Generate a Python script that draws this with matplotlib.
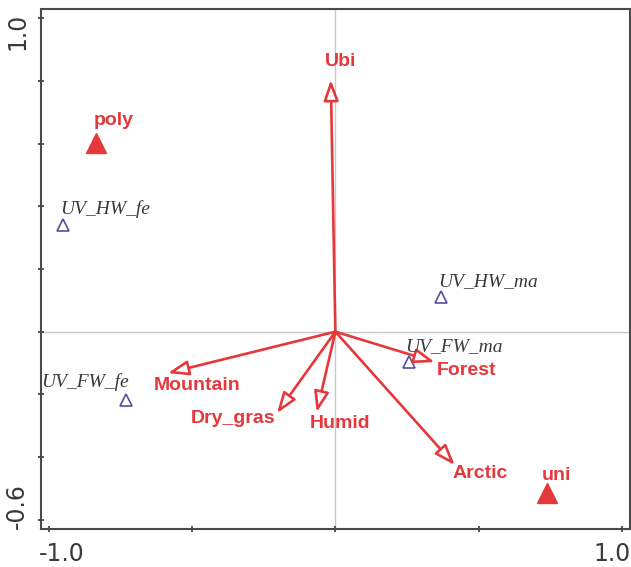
import matplotlib
matplotlib.use("Agg")
import matplotlib.pyplot as plt
import matplotlib.transforms as mtransforms

# variables de entorno (flechas)
env_names = ["Ubi", "Mountain", "Dry_gras", "Humid", "Forest", "Arctic"]
env_x = [-0.016, -0.585, -0.204, -0.065, 0.347, 0.417]
env_y = [0.804, -0.132, -0.26, -0.257, -0.097, -0.426]

# grupos (triangulos rellenos)
grp_names = ["poly", "uni"]
grp_x = [-0.836, 0.738]
grp_y = [0.603, -0.516]

# muestras (triangulos abiertos)
smp_names = ["UV_HW_fe", "UV_HW_ma", "UV_FW_ma", "UV_FW_fe"]
smp_x = [-0.951, 0.368, 0.256, -0.732]
smp_y = [0.34, 0.11, -0.097, -0.218]

rojo = "#e5383b"
morado = "#5b4b9c"
gris = "#3a3a3a"

fig = plt.figure(figsize=(6.31, 5.67), dpi=100)
ax = fig.add_axes([0.065, 0.067, 0.933, 0.917])
ax.set_xlim(-1.028, 1.028)
ax.set_ylim(-0.63, 1.03)

ax.axhline(0, color="#c8c8c8", lw=1, zorder=0)
ax.axvline(0, color="#c8c8c8", lw=1, zorder=0)

# flechas
env_off = {"Ubi": (10, 18), "Mountain": (29, -12), "Dry_gras": (-44, -5),
           "Humid": (23, -11), "Forest": (32, -8), "Arctic": (25, -8)}
for n, x, y in zip(env_names, env_x, env_y):
    ax.annotate("", xy=(x, y), xytext=(0, 0),
                arrowprops=dict(arrowstyle="-|>,head_length=1.25,head_width=0.45",
                                fc="white", ec=rojo, lw=1.9,
                                shrinkA=0, shrinkB=0))
    ax.annotate(n, (x, y), xytext=env_off[n], textcoords="offset pixels",
                ha="center", va="center", color=rojo, fontsize=14,
                fontweight="bold", family="Liberation Sans")

ax.plot(grp_x, grp_y, "^", color=rojo, ms=15, mec=rojo)
grp_off = {"poly": (18, 22), "uni": (10, 18)}
for n, x, y in zip(grp_names, grp_x, grp_y):
    ax.annotate(n, (x, y), xytext=grp_off[n], textcoords="offset pixels",
                ha="center", va="center", color=rojo, fontsize=14,
                fontweight="bold", family="Liberation Sans")

ax.plot(smp_x, smp_y, "^", mfc="none", mec=morado, ms=8, mew=1.2)
smp_off = {"UV_HW_fe": (-3, 7, "left"), "UV_HW_ma": (-3, 7, "left"),
           "UV_FW_ma": (-3, 7, "left"), "UV_FW_fe": (3, 9, "right")}
for n, x, y in zip(smp_names, smp_x, smp_y):
    dx, dy, ha = smp_off[n]
    ax.annotate(n, (x, y), xytext=(dx, dy), textcoords="offset pixels",
                ha=ha, va="bottom", color=gris, fontsize=14,
                style="italic", family="Liberation Serif")

# ejes
ax.set_xticks([-1.0, -0.5, 0, 0.5, 1.0])
ax.set_xticklabels(["-1.0", "", "", "", "1.0"])
ax.set_yticks([1.0, 0.8, 0.6, 0.4, 0.2, 0, -0.2, -0.4, -0.6])
ax.set_yticklabels(["1.0", "", "", "", "", "", "", "", "-0.6"], rotation=90,
                   va="center")
ax.tick_params(direction="inout", length=5, width=1.2, color=gris,
               labelsize=17, labelcolor=gris)
ax.tick_params(axis="x", pad=7)
ax.tick_params(axis="y", pad=6)
for s in ax.spines.values():
    s.set_color("#4a4a4a")
    s.set_linewidth(1.5)

labs = ax.get_xticklabels()
labs[0].set_transform(labs[0].get_transform() +
                      mtransforms.ScaledTranslation(0.13, 0, fig.dpi_scale_trans))
labs[-1].set_transform(labs[-1].get_transform() +
                       mtransforms.ScaledTranslation(-0.1, 0, fig.dpi_scale_trans))
labs = ax.get_yticklabels()
labs[0].set_transform(labs[0].get_transform() +
                      mtransforms.ScaledTranslation(0, -0.13, fig.dpi_scale_trans))
labs[-1].set_transform(labs[-1].get_transform() +
                       mtransforms.ScaledTranslation(0, 0.14, fig.dpi_scale_trans))

fig.savefig("out.png", dpi=100)
